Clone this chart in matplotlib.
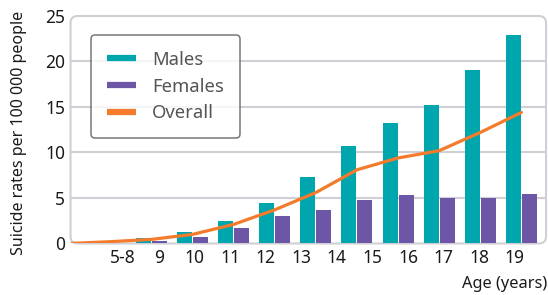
import matplotlib.pyplot as plt
from matplotlib.patches import FancyBboxPatch
from matplotlib.lines import Line2D
import numpy as np

plt.rcParams['font.family'] = ['Noto Sans', 'DejaVu Sans']

# tick labels along the x axis (not aligned with the bars in the original)
age_labels = ['5-8', '9', '10', '11', '12', '13', '14', '15', '16', '17', '18', '19']

# bar pairs sit at slots 2..11, the overall line runs over slots 0..11
bar_slots = [2, 3, 4, 5, 6, 7, 8, 9, 10, 11]
males = [0.6, 1.25, 2.5, 4.45, 7.3, 10.7, 13.2, 15.2, 19.1, 22.9]
females = [0.3, 0.7, 1.7, 3.0, 3.65, 4.75, 5.3, 5.0, 5.0, 5.4]
line_slots = [0, 1, 2, 3, 4, 5, 6, 7, 8, 9, 10, 11]
overall = [0, 0.2, 0.45, 1.0, 2.1, 3.7, 5.6, 8.1, 9.4, 10.2, 12.2, 14.4]

c_male = '#00A6AD'
c_female = '#6C56A5'
c_line = '#F47B2C'
c_grid = '#CFCFD5'

fig = plt.figure(figsize=(5.48, 2.95), dpi=100)
ax = fig.add_axes([0.1287, 0.1746, 0.8677, 0.7712])

w = 0.365
gap = 0.012
x = np.array(bar_slots)
ax.bar(x - w/2 - gap, males, width=w, color=c_male, zorder=2)
ax.bar(x + w/2 + gap, females, width=w, color=c_female, zorder=2)
ax.plot(line_slots, overall, color=c_line, lw=2.3, zorder=3, solid_capstyle='round')

ax.set_xlim(0.03, 11.6)
ax.set_ylim(0, 25)

# horizontal gridlines only
for g in [5, 10, 15, 20]:
    ax.axhline(g, color=c_grid, lw=1.5, zorder=1)

# rounded frame around the plot area
frame = FancyBboxPatch((0, 0), 1, 1, boxstyle='round,pad=0,rounding_size=0.015',
                       transform=ax.transAxes, fc='none', ec=c_grid, lw=1.5,
                       zorder=1, clip_on=False, mutation_aspect=1/0.48)
ax.add_patch(frame)
for s in ax.spines.values():
    s.set_visible(False)

ax.set_yticks([0, 5, 10, 15, 20, 25])
ax.set_xticks(np.linspace(1.31, 10.84, 12))
ax.set_xticklabels(age_labels)
ax.tick_params(axis='both', length=0, labelsize=12.5, colors='#1a1a1a')
ax.tick_params(axis='y', pad=4)
ax.tick_params(axis='x', pad=4)

fig.text(0.0347, 0.551, 'Suicide rates per 100 000 people', rotation=90,
         ha='center', va='center', fontsize=11.5, color='#1a1a1a')
fig.text(0.998, 0.037, 'Age (years)', ha='right', va='center',
         fontsize=11.8, color='#1a1a1a')

handles = [Line2D([], [], color=c_male, lw=4.5, solid_capstyle='butt'),
           Line2D([], [], color=c_female, lw=4.5, solid_capstyle='butt'),
           Line2D([], [], color=c_line, lw=4.5, solid_capstyle='butt')]
leg = ax.legend(handles, ['Males', 'Females', 'Overall'], loc='upper left',
                bbox_to_anchor=(0.043, 0.9165), fontsize=13.3, frameon=True,
                fancybox=True, handlelength=1.6, handletextpad=0.85,
                labelspacing=0.48, borderpad=0.85, borderaxespad=0)
leg.get_frame().set_edgecolor('#555555')
leg.get_frame().set_linewidth(1.1)
for t in leg.get_texts():
    t.set_color('#555555')

fig.savefig('out.png', dpi=100)
